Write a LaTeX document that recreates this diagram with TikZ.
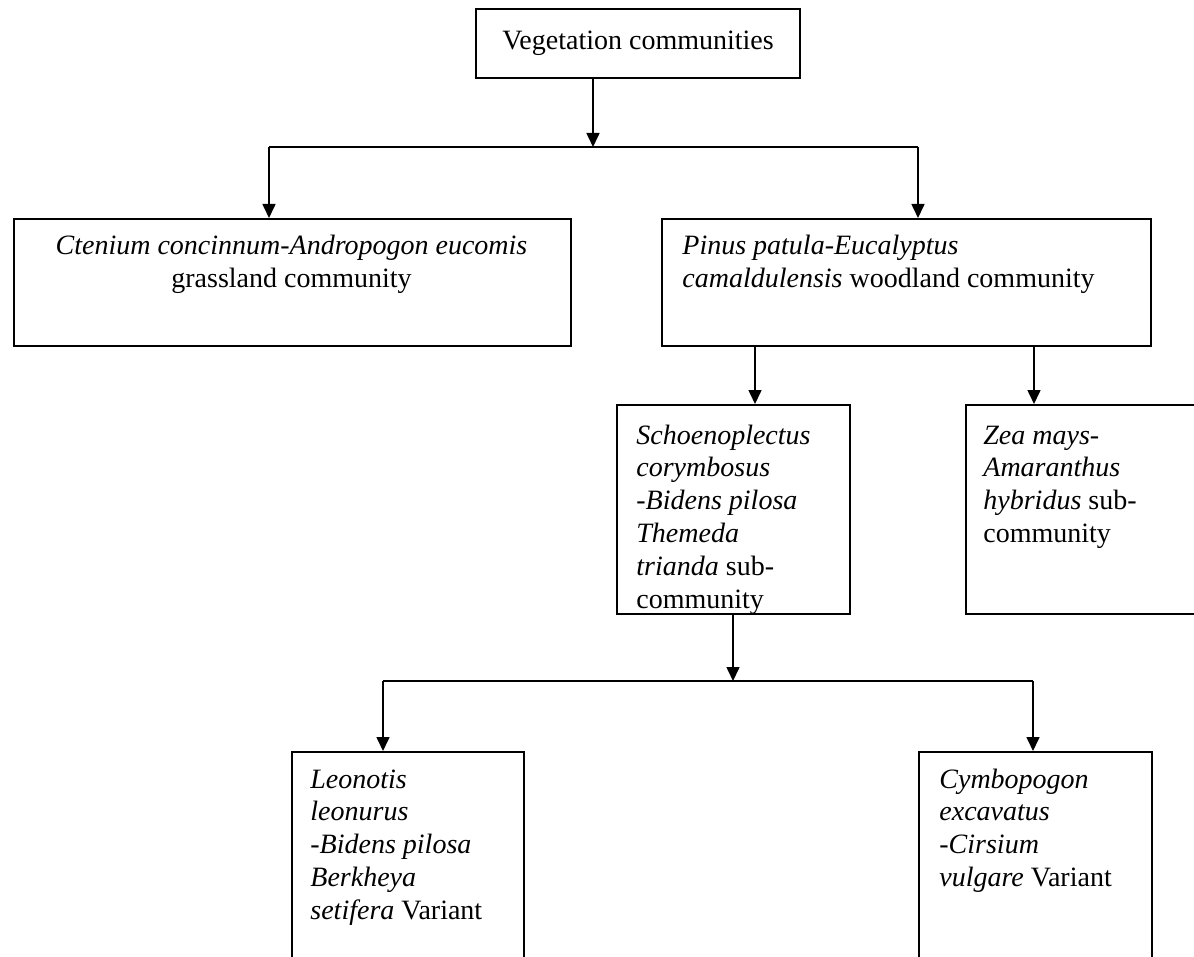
\documentclass[tikz,border=0pt]{standalone}
\usepackage{fontspec}
\setmainfont{Liberation Serif}
\usetikzlibrary{arrows.meta}
\newcommand{\boxtextL}[1]{\parbox[t]{300pt}{\raggedright\fontsize{14}{16.4}\selectfont #1}}
\newcommand{\boxtextC}[1]{\parbox[t]{270pt}{\centering\fontsize{14}{16.4}\selectfont #1}}
\begin{document}
\begin{tikzpicture}[x=0.5pt,y=-0.5pt,
  box/.style={draw, line width=1pt, anchor=north west, inner sep=0pt},
  lbl/.style={anchor=base west, inner sep=0pt},
  clbl/.style={anchor=base, inner sep=0pt},
  arr/.style={draw, line width=0.8pt, -{Triangle[length=7pt,width=6.5pt]}},
  hl/.style={draw, line width=1pt}]
\useasboundingbox (0,0) rectangle (1194,957);
\clip (0,0) rectangle (1194,957);
\fill[white] (0,0) rectangle (1194,957);

% boxes
\node[box, anchor=center, minimum width=162pt, minimum height=34.5pt, font=\fontsize{14}{16.4}\selectfont] (veg) at (638,43.5) {Vegetation communities};
\node[box, minimum width=278.5pt, minimum height=63.5pt] (cten) at (13,218) {};
\node[box, minimum width=244.5pt, minimum height=63.5pt] (pinus) at (661,218) {};
\node[box, minimum width=116.5pt, minimum height=104.5pt] (schoe) at (616,404) {};
\node[box, minimum width=114.5pt, minimum height=104.5pt] (zea) at (965,404) {};
\node[box, minimum width=116pt, minimum height=130pt] (leon) at (291,751) {};
\node[box, minimum width=116.5pt, minimum height=130pt] (cymb) at (918,751) {};

% texts
\node[clbl] (tcten) at (291.5,255) {\boxtextC{\textit{Ctenium concinnum-Andropogon eucomis}\\grassland community}};
\node[lbl] (tpinus) at (682,255) {\boxtextL{\textit{Pinus patula-Eucalyptus}\\\textit{camaldulensis} woodland community}};
\node[lbl] (tschoe) at (636,444) {\boxtextL{\textit{Schoenoplectus}\\\textit{corymbosus}\\\textit{-Bidens pilosa}\\\textit{Themeda}\\\textit{trianda} sub-\\community}};
\node[lbl] (tzea) at (983,444) {\boxtextL{\textit{Zea mays-}\\\textit{Amaranthus}\\\textit{hybridus} sub-\\community}};
\node[lbl] (tleon) at (310,788) {\boxtextL{\textit{Leonotis}\\\textit{leonurus}\\\textit{-Bidens pilosa}\\\textit{Berkheya}\\\textit{setifera} Variant}};
\node[lbl] (tcymb) at (939,788) {\boxtextL{\textit{Cymbopogon}\\\textit{excavatus}\\\textit{-Cirsium}\\\textit{vulgare} Variant}};

% connectors level 1
\coordinate (j1) at (593,147);
\coordinate (hl1) at (269,147);
\coordinate (hr1) at (918,147);
\draw[arr] (veg.south -| j1) -- (j1);
\draw[hl] (hl1) -- (hr1);
\draw[arr] (hl1) -- (hl1 |- cten.north);
\draw[arr] (hr1) -- (hr1 |- pinus.north);

% connectors level 2
\coordinate (xa) at (755,0);
\coordinate (xb) at (1034,0);
\draw[arr] (pinus.south -| xa) -- (xa |- schoe.north);
\draw[arr] (pinus.south -| xb) -- (xb |- zea.north);

% connectors level 3
\coordinate (j2) at (733,681);
\coordinate (hl2) at (383,681);
\coordinate (hr2) at (1033,681);
\draw[arr] (schoe.south -| j2) -- (j2);
\draw[hl] (hl2) -- (hr2);
\draw[arr] (hl2) -- (hl2 |- leon.north);
\draw[arr] (hr2) -- (hr2 |- cymb.north);
\end{tikzpicture}
\end{document}
